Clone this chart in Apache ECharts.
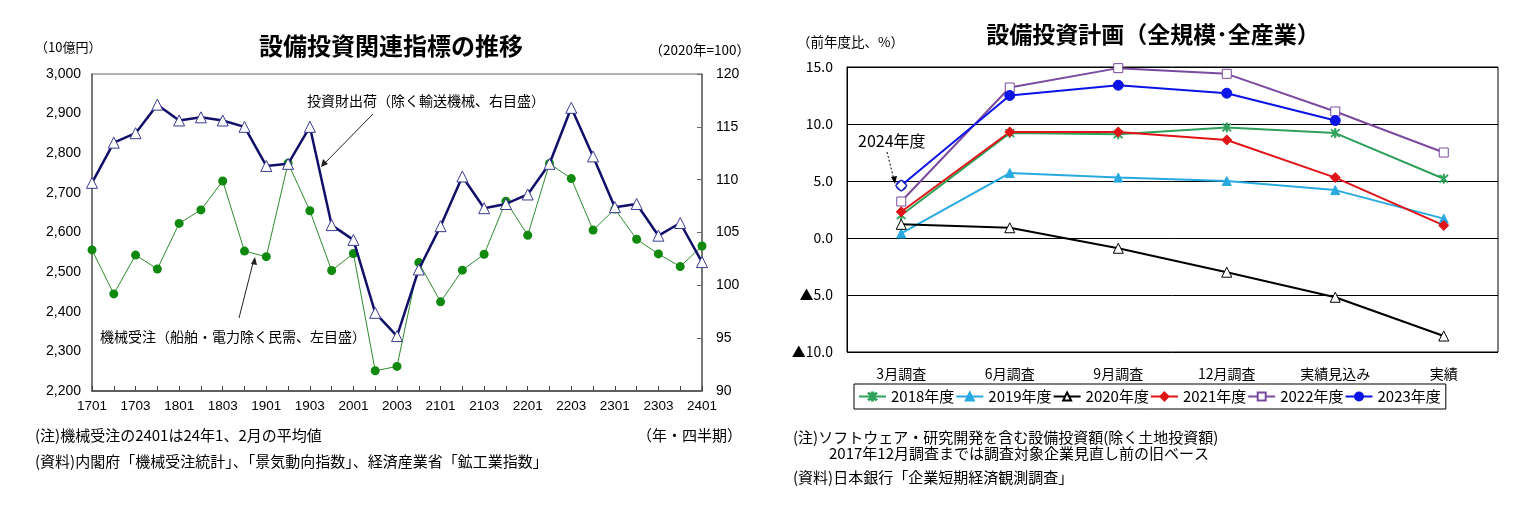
<!DOCTYPE html>
<html>
<head>
<meta charset="utf-8">
<script src="https://cdn.jsdelivr.net/npm/echarts@6/dist/echarts.min.js"></script>
<style>
  html, body { margin: 0; padding: 0; background: #fff; }
  #main { width: 1532px; height: 514px; }
</style>
</head>
<body>
<div id="main"></div>
<script>
// left chart: quarters and the two indicators
var quarters = ['1701','1702','1703','1704','1801','1802','1803','1804','1901','1902','1903','1904',
  '2001','2002','2003','2004','2101','2102','2103','2104','2201','2202','2203','2204',
  '2301','2302','2303','2304','2401'];
var orders = [2556,2445,2543,2508,2623,2657,2730,2553,2539,2775,2655,2504,
  2547,2251,2262,2524,2425,2505,2545,2679,2593,2774,2736,2606,
  2659,2583,2546,2514,2566];
var shipments = [109.7,113.5,114.4,117.1,115.6,115.9,115.6,115.0,111.3,111.5,115.0,105.7,
  104.3,97.4,95.2,101.5,105.6,110.3,107.3,107.7,108.6,111.5,116.8,112.2,
  107.4,107.7,104.7,105.9,102.2];

// right chart: Tankan survey rounds and plans by fiscal year
var surveys = ['3月調査','6月調査','9月調査','12月調査','実績見込み','実績'];
var fy2018 = [2.0, 9.2, 9.1, 9.7, 9.2, 5.2];
var fy2019 = [0.4, 5.7, 5.3, 5.0, 4.2, 1.7];
var fy2020 = [1.2, 0.9, -0.9, -3.0, -5.2, -8.6];
var fy2021 = [2.3, 9.3, 9.3, 8.6, 5.3, 1.1];
var fy2022 = [3.2, 13.2, 14.9, 14.4, 11.1, 7.5];
var fy2023 = [4.6, 12.5, 13.4, 12.7, 10.3, null];
var fy2024 = [4.6, null, null, null, null, null];

var jp = '"Noto Sans CJK JP", sans-serif';
var num = '"Liberation Sans", Arial, sans-serif';
var asterisk = 'path://M4.4,0 L5.6,0 L5.6,10 L4.4,10 Z M0.6,1.4 L1.4,0.6 L9.4,8.6 L8.6,9.4 Z M8.6,0.6 L9.4,1.4 L1.4,9.4 L0.6,8.6 Z';

function planSeries(name, data, color, symbol, fill, size) {
  return {
    name: name, type: 'line', xAxisIndex: 1, yAxisIndex: 2, data: data,
    symbol: symbol, symbolSize: size, connectNulls: false,
    lineStyle: { color: color, width: 2 },
    itemStyle: { color: fill, borderColor: color, borderWidth: 1 },
    z: 3
  };
}

function txt(x, y, s, size, extra) {
  var style = { x: x, y: y, text: s, fontSize: size, fill: '#000', fontFamily: jp, textVerticalAlign: 'middle' };
  for (var k in extra) style[k] = extra[k];
  return { type: 'text', style: style };
}

var chart = echarts.init(document.getElementById('main'));
var option = {
  animation: false,
  textStyle: { fontFamily: jp },
  grid: [
    { left: 92, top: 74, width: 610, height: 317, show: true, borderColor: '#666', borderWidth: 1 },
    { left: 847, top: 67, width: 651, height: 285, show: true, borderColor: '#000', borderWidth: 1 }
  ],
  xAxis: [
    {
      type: 'category', gridIndex: 0, data: quarters, boundaryGap: false,
      axisLine: { lineStyle: { color: '#444', width: 1.5 } },
      axisTick: { inside: true, interval: 0, length: 5, lineStyle: { color: '#444' } },
      axisLabel: { interval: 1, color: '#000', fontSize: 13.5, fontFamily: num, margin: 8 }
    },
    {
      type: 'category', gridIndex: 1, data: surveys, boundaryGap: true,
      axisLine: { lineStyle: { color: '#000' } },
      axisTick: { show: false },
      axisLabel: { color: '#000', fontSize: 14, margin: 15 }
    }
  ],
  yAxis: [
    {
      type: 'value', gridIndex: 0, min: 2200, max: 3000, interval: 100,
      axisLine: { show: true, lineStyle: { color: '#666', width: 1.5 } },
      axisTick: { show: false }, splitLine: { show: false },
      axisLabel: { color: '#000', fontSize: 14, fontFamily: num, margin: 11,
        formatter: function (v) { return v.toLocaleString('en-US'); } }
    },
    {
      type: 'value', gridIndex: 0, position: 'right', min: 90, max: 120, interval: 5,
      axisLine: { show: true, lineStyle: { color: '#666', width: 1.5 } },
      axisTick: { show: true, inside: true, length: 5, lineStyle: { color: '#666' } },
      splitLine: { show: false },
      axisLabel: { color: '#000', fontSize: 14, fontFamily: num, margin: 14 }
    },
    {
      type: 'value', gridIndex: 1, min: -10, max: 15, interval: 5,
      axisLine: { show: true, lineStyle: { color: '#000' } },
      axisTick: { show: false },
      splitLine: { lineStyle: { color: '#000', width: 1 } },
      axisLabel: { color: '#000', fontSize: 14, margin: 14,
        formatter: function (v) { return v < 0 ? '▲' + Math.abs(v).toFixed(1) : v.toFixed(1); } }
    }
  ],
  legend: {
    left: 854, top: 384, padding: [5, 5, 5, 4], itemGap: 1,
    itemWidth: 27, itemHeight: 10,
    borderColor: '#000', borderWidth: 1,
    textStyle: { fontSize: 15, color: '#000' },
    data: ['2018年度', '2019年度', '2020年度', '2021年度', '2022年度', '2023年度']
  },
  series: [
    {
      name: '機械受注', type: 'line', xAxisIndex: 0, yAxisIndex: 0, data: orders,
      symbol: 'circle', symbolSize: 9,
      lineStyle: { color: '#2f8a2f', width: 1 },
      itemStyle: { color: '#0f8a0f' }, z: 2
    },
    {
      name: '投資財出荷', type: 'line', xAxisIndex: 0, yAxisIndex: 1, data: shipments,
      symbol: 'triangle', symbolSize: 11,
      lineStyle: { color: '#10106a', width: 2.5 },
      itemStyle: { color: '#fff', borderColor: '#3a3a90', borderWidth: 1 }, z: 3
    },
    planSeries('2018年度', fy2018, '#2ea05a', asterisk, '#2ea05a', 9),
    planSeries('2019年度', fy2019, '#28aae0', 'triangle', '#28aae0', 9),
    planSeries('2020年度', fy2020, '#000', 'triangle', '#fff', 10),
    planSeries('2021年度', fy2021, '#e01418', 'diamond', '#e01418', 10),
    planSeries('2022年度', fy2022, '#7a4a9e', 'rect', '#fff', 9),
    planSeries('2023年度', fy2023, '#0a14e6', 'circle', '#0a14e6', 10),
    {
      name: '2024年度', type: 'line', xAxisIndex: 1, yAxisIndex: 2, data: fy2024,
      symbol: 'diamond', symbolSize: 11,
      itemStyle: { color: '#fff', borderColor: '#1a2ab0', borderWidth: 1.2 }, z: 5
    }
  ],
  graphic: [
    txt(35, 47, '（10億円）', 13),
    txt(391, 46, '設備投資関連指標の推移', 24, { fontWeight: 'bold', textAlign: 'center' }),
    txt(750, 50, '（2020年=100）', 13.5, { textAlign: 'right' }),
    txt(307, 101, '投資財出荷（除く輸送機械、右目盛）', 14),
    { type: 'line', shape: { x1: 373, y1: 114, x2: 322, y2: 166 }, style: { stroke: '#222', lineWidth: 1 } },
    { type: 'polygon', shape: { points: [[321, 167], [323, 159], [328, 164]] }, style: { fill: '#222' } },
    txt(100, 337, '機械受注（船舶・電力除く民需、左目盛）', 14),
    { type: 'line', shape: { x1: 239, y1: 318, x2: 254, y2: 259 }, style: { stroke: '#222', lineWidth: 1 } },
    { type: 'polygon', shape: { points: [[255, 257], [251, 264], [257, 265]] }, style: { fill: '#222' } },
    txt(35, 435, '(注)機械受注の2401は24年1、2月の平均値', 15),
    txt(742, 435, '（年・四半期）', 15, { textAlign: 'right' }),
    txt(35, 461, '(資料)内閣府「機械受注統計」、「景気動向指数」、経済産業省「鉱工業指数」', 15),

    txt(797, 42, '（前年度比、%）', 13.5),
    txt(1153, 34, '設備投資計画（全規模･全産業）', 23, { fontWeight: 'bold', textAlign: 'center' }),
    txt(858, 141, '2024年度', 16),
    { type: 'line', shape: { x1: 887, y1: 152, x2: 894, y2: 180 }, style: { stroke: '#000', lineWidth: 1, lineDash: [2, 2] } },
    { type: 'polygon', shape: { points: [[895, 184], [891, 177], [897, 176]] }, style: { fill: '#000' } },
    txt(793, 437, '(注)ソフトウェア・研究開発を含む設備投資額(除く土地投資額)', 15),
    txt(829, 453, '2017年12月調査までは調査対象企業見直し前の旧ベース', 15),
    txt(793, 477, '(資料)日本銀行「企業短期経済観測調査」', 15)
  ]
};
chart.setOption(option);
</script>
</body>
</html>
